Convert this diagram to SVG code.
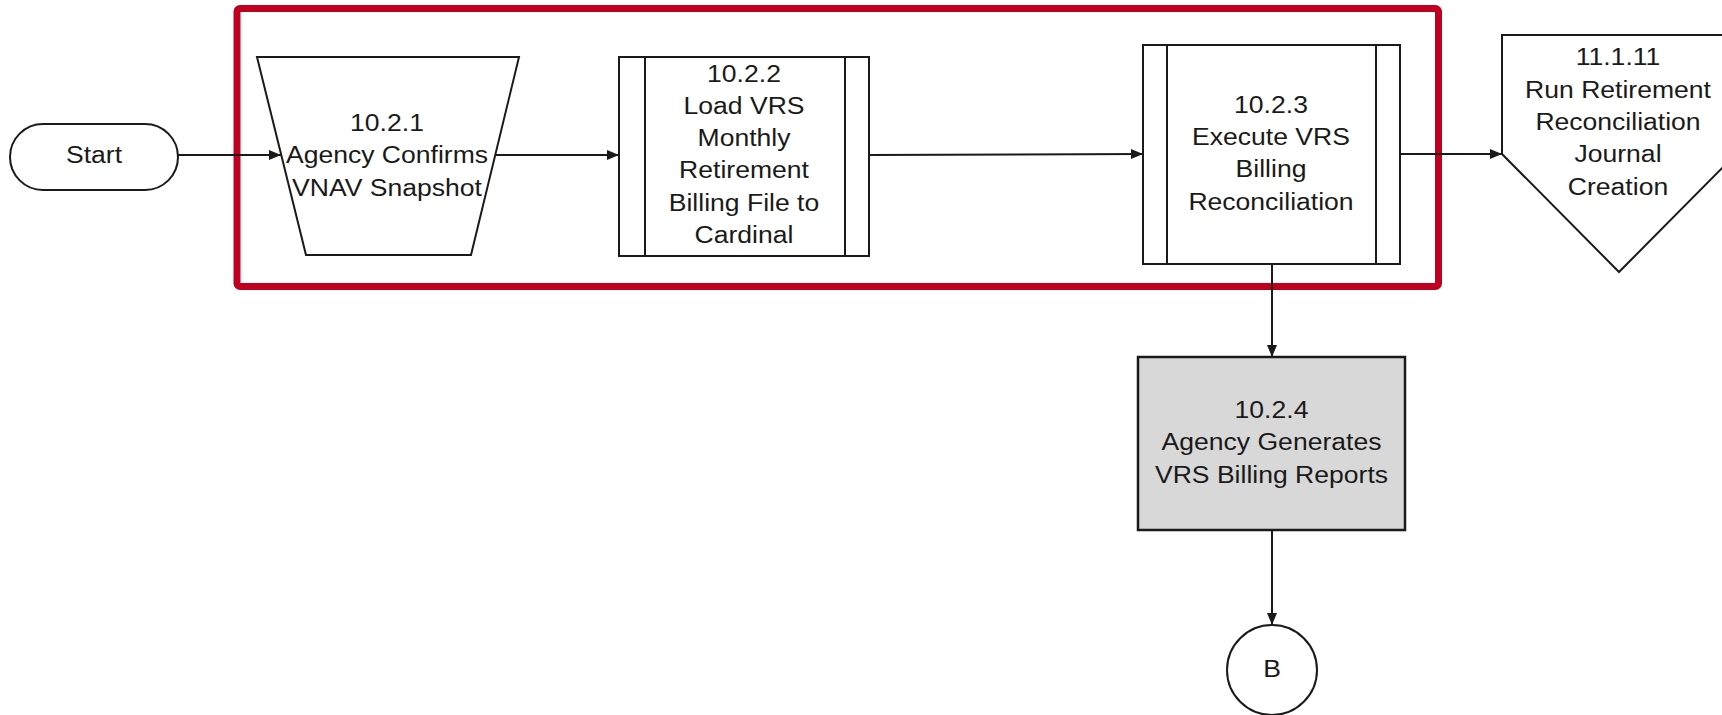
<svg xmlns="http://www.w3.org/2000/svg" width="1722" height="715" viewBox="0 0 1722 715">
<style>
.shape{fill:#ffffff;stroke:#1a1a1a;stroke-width:2}
.gray{fill:#d8d8d8;stroke:#1a1a1a;stroke-width:2.5}
.lbl{font-family:"Liberation Sans",Arial,sans-serif;font-size:23.5px;fill:#1a1a1a;text-anchor:middle}
.conn{fill:none;stroke:#1a1a1a;stroke-width:2;marker-end:url(#arrow)}
</style>
<defs>
<marker id="arrow" markerUnits="userSpaceOnUse" markerWidth="12" markerHeight="10" refX="12" refY="5" orient="auto">
<path d="M0,0 L12,5 L0,10 z" fill="#1a1a1a"/>
</marker>
</defs>
<rect width="1722" height="715" fill="#ffffff"/>
<rect id="highlight" x="237" y="8.5" width="1201.5" height="278" rx="3" fill="none" stroke="#c00020" stroke-width="7"/>
<g id="connectors">
<line class="conn" x1="178" y1="155" x2="281" y2="155"/>
<line class="conn" x1="495" y1="155" x2="619" y2="155"/>
<line class="conn" x1="869" y1="155" x2="1143" y2="154"/>
<line class="conn" x1="1400" y1="154" x2="1502" y2="154"/>
<line class="conn" x1="1272" y1="264" x2="1272" y2="357"/>
<line class="conn" x1="1272" y1="530" x2="1272" y2="625"/>
</g>
<g id="start">
<rect class="shape" x="10" y="124" width="168" height="66" rx="33"/>
<text class="lbl" transform="translate(94 0) scale(1.13 1)" x="0" y="163">Start</text>
</g>
<g id="n1021">
<polygon class="shape" points="257,57 519,57 471,255 306,255"/>
<text class="lbl" transform="translate(387 0) scale(1.13 1)"><tspan x="0" y="131">10.2.1</tspan><tspan x="0" y="163">Agency Confirms</tspan><tspan x="0" y="196">VNAV Snapshot</tspan></text>
</g>
<g id="n1022">
<rect class="shape" x="619" y="57" width="250" height="199"/>
<line class="shape" x1="645" y1="57" x2="645" y2="256"/>
<line class="shape" x1="845" y1="57" x2="845" y2="256"/>
<text class="lbl" transform="translate(744 0) scale(1.13 1)"><tspan x="0" y="82">10.2.2</tspan><tspan x="0" y="114">Load VRS</tspan><tspan x="0" y="146.5">Monthly</tspan><tspan x="0" y="178.5">Retirement</tspan><tspan x="0" y="211">Billing File to</tspan><tspan x="0" y="243">Cardinal</tspan></text>
</g>
<g id="n1023">
<rect class="shape" x="1143" y="45" width="257" height="219"/>
<line class="shape" x1="1167" y1="45" x2="1167" y2="264"/>
<line class="shape" x1="1376" y1="45" x2="1376" y2="264"/>
<text class="lbl" transform="translate(1271 0) scale(1.13 1)"><tspan x="0" y="113">10.2.3</tspan><tspan x="0" y="145">Execute VRS</tspan><tspan x="0" y="177.5">Billing</tspan><tspan x="0" y="210">Reconciliation</tspan></text>
</g>
<g id="n11111">
<polygon class="shape" points="1502,35 1736,35 1736,154 1619,272 1502,154"/>
<text class="lbl" transform="translate(1618 0) scale(1.13 1)"><tspan x="0" y="65">11.1.11</tspan><tspan x="0" y="98">Run Retirement</tspan><tspan x="0" y="130">Reconciliation</tspan><tspan x="0" y="162">Journal</tspan><tspan x="0" y="195">Creation</tspan></text>
</g>
<g id="n1024">
<rect class="gray" x="1138" y="357" width="267" height="173"/>
<text class="lbl" transform="translate(1271.5 0) scale(1.13 1)"><tspan x="0" y="418">10.2.4</tspan><tspan x="0" y="450.5">Agency Generates</tspan><tspan x="0" y="483">VRS Billing Reports</tspan></text>
</g>
<g id="connB">
<circle class="shape" cx="1272" cy="670" r="45"/>
<text class="lbl" transform="translate(1272 0) scale(1.13 1)" x="0" y="677">B</text>
</g>
</svg>
